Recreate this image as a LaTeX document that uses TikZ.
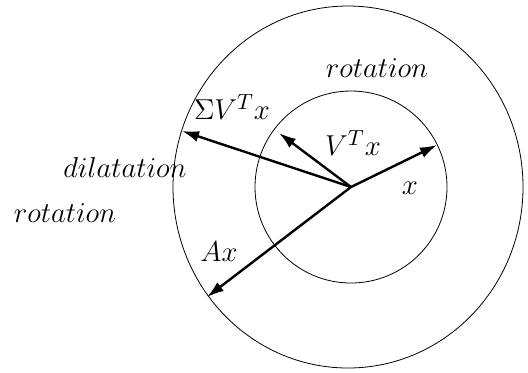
\documentclass[tikz,border=0pt]{standalone}
\usepackage{tikz}
\usetikzlibrary{arrows.meta}

\begin{document}
\begin{tikzpicture}[
    x=0.5pt, y=-0.5pt,
    ring/.style={draw, thin},
    vec/.style={-{Latex[length=8.5pt,width=5.5pt]}, line width=1.2pt},
    lbl/.style={font=\fontsize{15.5}{18}\selectfont, inner sep=0pt}
]
    \useasboundingbox (0,0) rectangle (528,372);

    \coordinate (origin) at (351,187);
    \draw[ring] (origin) circle [radius=96];
    \draw[ring] (348,187) ellipse [x radius=175, y radius=181];

    \coordinate (xtip) at (437,145);
    \coordinate (vtip) at (279,133);
    \coordinate (stip) at (182,131);
    \coordinate (atip) at (207,297);

    \draw[vec] (origin) -- (xtip);
    \draw[vec] (origin) -- (vtip);
    \draw[vec] (origin) -- (stip);
    \draw[vec] (origin) -- (atip);

    \node[lbl] (rotTop) at (377,68) {$rotation$};
    \node[lbl] (svx) at (232,107) {$\Sigma V^T x$};
    \node[lbl] (vx) at (353,143) {$V^T x$};
    \node[lbl] (dil) at (125,167) {$dilatation$};
    \node[lbl] (rotLeft) at (65,213) {$rotation$};
    \node[lbl] (xl) at (410,188) {$x$};
    \node[lbl] (ax) at (219,252) {$Ax$};
\end{tikzpicture}
\end{document}
